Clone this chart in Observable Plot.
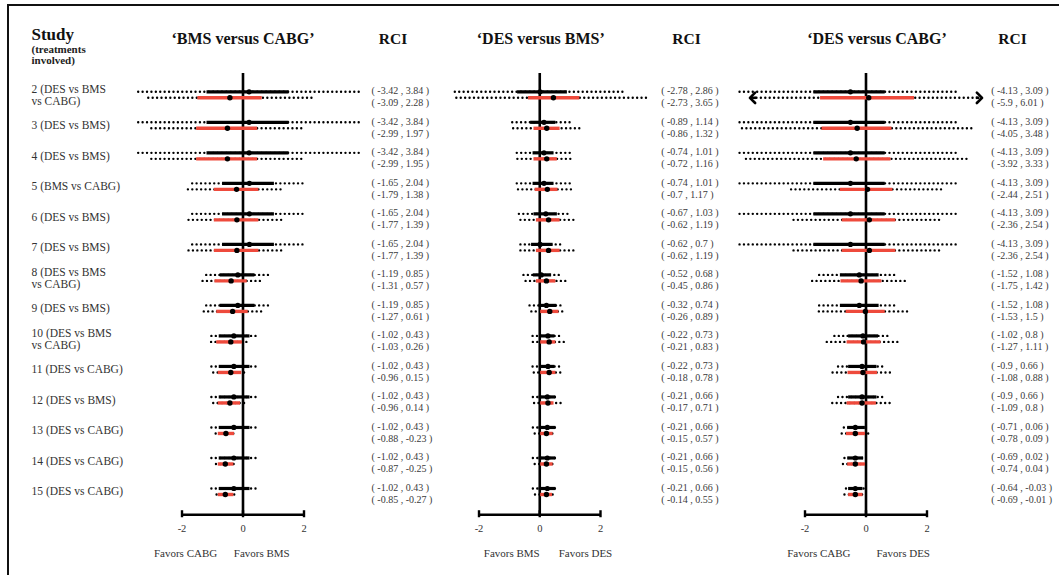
<!DOCTYPE html>
<html><head><meta charset="utf-8">
<script src="https://cdn.jsdelivr.net/npm/d3@7"></script>
<script src="https://cdn.jsdelivr.net/npm/@observablehq/plot@0.6"></script>
<style>
html,body{margin:0;padding:0;background:#fff;}
#chart{position:relative;width:1059px;height:575px;overflow:hidden;}
#chart svg{position:absolute;left:0;top:0;}
#frame{position:absolute;left:7px;top:4px;width:1100px;height:620px;border-top:2.5px solid #111;border-left:2.5px solid #111;}
</style></head><body><div id="chart"><div id="frame"></div></div>
<script>
// ---------- data ----------
const studies = [
  "2 (DES vs BMS\nvs CABG)", "3 (DES vs BMS)", "4 (DES vs BMS)", "5 (BMS vs CABG)",
  "6 (DES vs BMS)", "7 (DES vs BMS)", "8 (DES vs BMS\nvs CABG)", "9 (DES vs BMS)",
  "10 (DES vs BMS\nvs CABG)", "11 (DES vs CABG)", "12 (DES vs BMS)", "13 (DES vs CABG)",
  "14 (DES vs CABG)", "15 (DES vs CABG)"
];
const ticks = [-2, 0, 2];
const panelTitles = ["\u2018BMS versus CABG\u2019", "\u2018DES versus BMS\u2019", "\u2018DES versus CABG\u2019"];
const favorsLabels = [["Favors CABG", "Favors BMS"], ["Favors BMS", "Favors DES"], ["Favors CABG", "Favors DES"]];

// Panel 1: BMS versus CABG
const bmsCabgBlackRci = [[-3.42,3.84],[-3.42,3.84],[-3.42,3.84],[-1.65,2.04],[-1.65,2.04],[-1.65,2.04],[-1.19,0.85],[-1.19,0.85],[-1.02,0.43],[-1.02,0.43],[-1.02,0.43],[-1.02,0.43],[-1.02,0.43],[-1.02,0.43]];
const bmsCabgBlackCi = [[-1.18,1.51],[-1.18,1.51],[-1.18,1.51],[-0.67,1.03],[-0.67,1.03],[-0.67,1.03],[-0.75,0.39],[-0.75,0.39],[-0.78,0.23],[-0.78,0.23],[-0.78,0.23],[-0.78,0.23],[-0.78,0.23],[-0.78,0.23]];
const bmsCabgBlackEst = [0.2,0.2,0.2,0.21,0.21,0.21,-0.17,-0.17,-0.3,-0.3,-0.3,-0.3,-0.3,-0.3];
const bmsCabgRedRci = [[-3.09,2.28],[-2.99,1.97],[-2.99,1.95],[-1.79,1.38],[-1.77,1.39],[-1.77,1.39],[-1.31,0.57],[-1.27,0.61],[-1.03,0.26],[-0.96,0.15],[-0.96,0.14],[-0.88,-0.23],[-0.87,-0.25],[-0.85,-0.27]];
const bmsCabgRedCi = [[-1.48,0.63],[-1.52,0.48],[-1.52,0.48],[-0.94,0.52],[-0.94,0.52],[-0.94,0.52],[-0.92,0.14],[-0.86,0.17],[-0.86,-0.02],[-0.81,-0.04],[-0.81,-0.08],[-0.81,-0.28],[-0.81,-0.3],[-0.81,-0.3]];
const bmsCabgRedEst = [-0.43,-0.51,-0.51,-0.21,-0.2,-0.2,-0.39,-0.34,-0.4,-0.4,-0.43,-0.56,-0.58,-0.58];

// Panel 2: DES versus BMS
const desBmsBlackRci = [[-2.78,2.86],[-0.89,1.14],[-0.74,1.01],[-0.74,1.01],[-0.67,1.03],[-0.62,0.7],[-0.52,0.68],[-0.32,0.74],[-0.22,0.73],[-0.22,0.73],[-0.21,0.66],[-0.21,0.66],[-0.21,0.66],[-0.21,0.66]];
const desBmsBlackCi = [[-0.73,0.91],[-0.3,0.53],[-0.22,0.47],[-0.22,0.47],[-0.19,0.58],[-0.27,0.44],[-0.21,0.39],[-0.02,0.56],[0,0.5],[0,0.5],[-0.02,0.53],[-0.02,0.53],[-0.02,0.53],[-0.02,0.53]];
const desBmsBlackEst = [0.01,0.14,0.14,0.14,0.2,0.01,0.05,0.22,0.27,0.27,0.25,0.25,0.25,0.25];
const desBmsRedRci = [[-2.73,3.65],[-0.86,1.32],[-0.72,1.16],[-0.7,1.17],[-0.62,1.19],[-0.62,1.19],[-0.45,0.86],[-0.26,0.89],[-0.21,0.83],[-0.18,0.78],[-0.17,0.71],[-0.15,0.57],[-0.15,0.56],[-0.14,0.55]];
const desBmsRedCi = [[-0.37,1.32],[-0.19,0.67],[-0.19,0.58],[-0.15,0.6],[-0.11,0.67],[-0.11,0.67],[-0.11,0.53],[0.03,0.63],[0.03,0.53],[0.03,0.53],[0.03,0.47],[0.03,0.44],[0.03,0.44],[0.03,0.42]];
const desBmsRedEst = [0.45,0.23,0.23,0.25,0.29,0.29,0.22,0.33,0.31,0.31,0.27,0.22,0.22,0.22];

// Panel 3: DES versus CABG
const desCabgBlackRci = [[-4.13,3.09],[-4.13,3.09],[-4.13,3.09],[-4.13,3.09],[-4.13,3.09],[-4.13,3.09],[-1.52,1.08],[-1.52,1.08],[-1.02,0.8],[-0.9,0.66],[-0.9,0.66],[-0.71,0.06],[-0.69,0.02],[-0.64,-0.03]];
const desCabgBlackCi = [[-1.71,0.63],[-1.71,0.63],[-1.71,0.63],[-1.71,0.63],[-1.71,0.63],[-1.71,0.63],[-0.84,0.43],[-0.84,0.43],[-0.57,0.41],[-0.57,0.36],[-0.57,0.36],[-0.6,-0.02],[-0.6,-0.08],[-0.57,-0.1]];
const desCabgBlackEst = [-0.51,-0.51,-0.51,-0.51,-0.51,-0.51,-0.22,-0.22,-0.1,-0.13,-0.13,-0.35,-0.35,-0.35];
const desCabgRedRci = [[-5.9,6.01],[-4.05,3.48],[-3.92,3.33],[-2.44,2.51],[-2.36,2.54],[-2.36,2.54],[-1.75,1.42],[-1.53,1.5],[-1.27,1.11],[-1.08,0.88],[-1.09,0.8],[-0.78,0.09],[-0.74,0.04],[-0.69,-0.01]];
const desCabgRedCi = [[-1.49,1.59],[-1.44,0.85],[-1.39,0.82],[-0.84,0.88],[-0.78,0.98],[-0.78,0.98],[-0.82,0.52],[-0.65,0.63],[-0.62,0.49],[-0.59,0.38],[-0.62,0.34],[-0.64,-0.02],[-0.6,-0.02],[-0.57,-0.1]];
const desCabgRedEst = [0.09,-0.29,-0.32,0.05,0.11,0.11,-0.16,-0.02,-0.08,-0.1,-0.13,-0.35,-0.35,-0.35];

// ---------- layout / style ----------
const FONT = "'Liberation Serif', 'Times New Roman', serif";
const RED = "#ee4a3c";
const DOTS = "0.01 4.4";
const arrowLimit = 5, arrowAt = 3.72;
const yScale = {domain: [0, 13], range: [94.3, 491]};
const zeroTop = -0.7, axisRow = 13.76;

const panels = [
  {title: panelTitles[0], favors: favorsLabels[0], xr: [181.5, 303.5], titleDx: 0, rciX: 371, rciHeadX: 392.5, favDx: [-25.8, -9.2],
   bR: bmsCabgBlackRci, bC: bmsCabgBlackCi, bE: bmsCabgBlackEst, rR: bmsCabgRedRci, rC: bmsCabgRedCi, rE: bmsCabgRedEst},
  {title: panelTitles[1], favors: favorsLabels[1], xr: [478.5, 600], titleDx: 1, rciX: 660.7, rciHeadX: 686, favDx: [0, 19],
   bR: desBmsBlackRci, bC: desBmsBlackCi, bE: desBmsBlackEst, rR: desBmsRedRci, rC: desBmsRedCi, rE: desBmsRedEst},
  {title: panelTitles[2], favors: favorsLabels[2], xr: [804.5, 926.5], titleDx: 11, rciX: 990.7, rciHeadX: 1012, favDx: [-15.5, 10.5],
   bR: desCabgBlackRci, bC: desCabgBlackCi, bE: desCabgBlackEst, rR: desCabgRedRci, rC: desCabgRedCi, rE: desCabgRedEst}
];

const fmt = r => `( ${r[0]} , ${r[1]} )`;
const shown = v => Math.abs(v) > arrowLimit ? Math.sign(v) * arrowAt : v;

function panelPlot(p, extra) {
  const rows = studies.map((s, i) => ({i, bR: p.bR[i], bC: p.bC[i], bE: p.bE[i], rR: p.rR[i], rC: p.rC[i], rE: p.rE[i]}));
  const arrowsFor = key => rows.flatMap(d => d[key].filter(v => Math.abs(v) > arrowLimit)
    .map(v => ({i: d.i, x1: Math.sign(v) * (arrowAt - 0.12), x2: Math.sign(v) * arrowAt})));
  const blackArrows = arrowsFor("bR"), redArrows = arrowsFor("rR");
  const dotted = {stroke: "#000", strokeWidth: 2.4, strokeDasharray: DOTS, strokeLinecap: "round"};
  return Plot.plot({
    width: 1059, height: 575,
    marginTop: 0, marginLeft: 0, marginRight: 0, marginBottom: 0,
    x: {domain: [-2, 2], range: p.xr, axis: null},
    y: {...yScale, axis: null},
    style: {fontFamily: FONT, background: "transparent", overflow: "visible", color: "#000"},
    marks: [
      // axis
      Plot.ruleX([0], {y1: zeroTop, y2: axisRow, stroke: "#000", strokeWidth: 2.6}),
      Plot.ruleY([axisRow], {x1: -2, x2: 2, stroke: "#000", strokeWidth: 2.6}),
      Plot.ruleX(ticks, {x: d => d, y1: axisRow - 0.13, y2: axisRow + 0.1, stroke: "#000", strokeWidth: 2.4}),
      Plot.text(ticks, {x: d => d, frameAnchor: "top", dy: 531.5, lineAnchor: "bottom", text: d => String(d), fontSize: 10.5, fill: "#333"}),
      // dotted RCI
      Plot.ruleY(rows, {y: "i", x1: d => shown(d.bR[0]), x2: d => shown(d.bR[1]), dy: -3, ...dotted}),
      Plot.ruleY(rows, {y: "i", x1: d => shown(d.rR[0]), x2: d => shown(d.rR[1]), dy: 3, ...dotted}),
      Plot.link(blackArrows, {x1: "x1", x2: "x2", y1: "i", y2: "i", dy: -3, stroke: "#000", strokeWidth: 2.6, markerEnd: "arrow"}),
      Plot.link(redArrows, {x1: "x1", x2: "x2", y1: "i", y2: "i", dy: 3, stroke: "#000", strokeWidth: 2.6, markerEnd: "arrow"}),
      // solid intervals
      Plot.ruleY(rows, {y: "i", x1: d => d.bC[0], x2: d => d.bC[1], dy: -3, stroke: "#000", strokeWidth: 3.2}),
      Plot.ruleY(rows, {y: "i", x1: d => d.rC[0], x2: d => d.rC[1], dy: 3, stroke: RED, strokeWidth: 3.4}),
      // estimates
      Plot.dot(rows, {x: "bE", y: "i", dy: -3, r: 2.6, fill: "#000", stroke: null}),
      Plot.dot(rows, {x: "rE", y: "i", dy: 3, r: 2.7, fill: "#000", stroke: null}),
      // RCI texts
      Plot.text(rows, {y: "i", frameAnchor: "left", dx: p.rciX, dy: 1.5, text: d => fmt(d.bR) + "\n" + fmt(d.rR),
        textAnchor: "start", lineAnchor: "middle", lineHeight: 1.2, fontSize: 10, fill: "#3a3a3a"}),
      // headers
      Plot.text([p.title], {x: () => 0, frameAnchor: "top", dx: p.titleDx, dy: 43.5, lineAnchor: "bottom", text: d => d,
        fontSize: 16, fontWeight: "bold", fill: "#111"}),
      Plot.text(["RCI"], {frameAnchor: "top-left", dx: p.rciHeadX, dy: 43, lineAnchor: "bottom", textAnchor: "middle", text: d => d,
        fontSize: 15.5, fontWeight: "bold", fill: "#111"}),
      // favors
      Plot.text([p.favors[0]], {x: () => 0, frameAnchor: "top", dx: p.favDx[0], dy: 556, lineAnchor: "bottom", textAnchor: "end", text: d => d, fontSize: 11, fill: "#333"}),
      Plot.text([p.favors[1]], {x: () => 0, frameAnchor: "top", dx: p.favDx[1], dy: 556, lineAnchor: "bottom", textAnchor: "start", text: d => d, fontSize: 11, fill: "#333"}),
      ...extra
    ]
  });
}

const studyMarks = [
  Plot.text(studies, {y: (d, i) => i, frameAnchor: "left", dx: 31, text: d => d, textAnchor: "start", lineAnchor: "middle",
    lineHeight: 1.05, fontSize: 11.5, fill: "#333"}),
  Plot.text(["Study"], {frameAnchor: "top-left", dx: 31, dy: 39.3, lineAnchor: "bottom", textAnchor: "start", text: d => d,
    fontSize: 17, fontWeight: "bold", fill: "#111"}),
  Plot.text(["(treatments"], {frameAnchor: "top-left", dx: 31, dy: 52.7, lineAnchor: "bottom", textAnchor: "start", text: d => d,
    fontSize: 11, fontWeight: "bold", fill: "#222"}),
  Plot.text(["involved)"], {frameAnchor: "top-left", dx: 31, dy: 63.5, lineAnchor: "bottom", textAnchor: "start", text: d => d,
    fontSize: 11, fontWeight: "bold", fill: "#222"})
];

const chart = document.getElementById("chart");
panels.forEach((p, k) => chart.append(panelPlot(p, k === 0 ? studyMarks : [])));
</script>
</body></html>
